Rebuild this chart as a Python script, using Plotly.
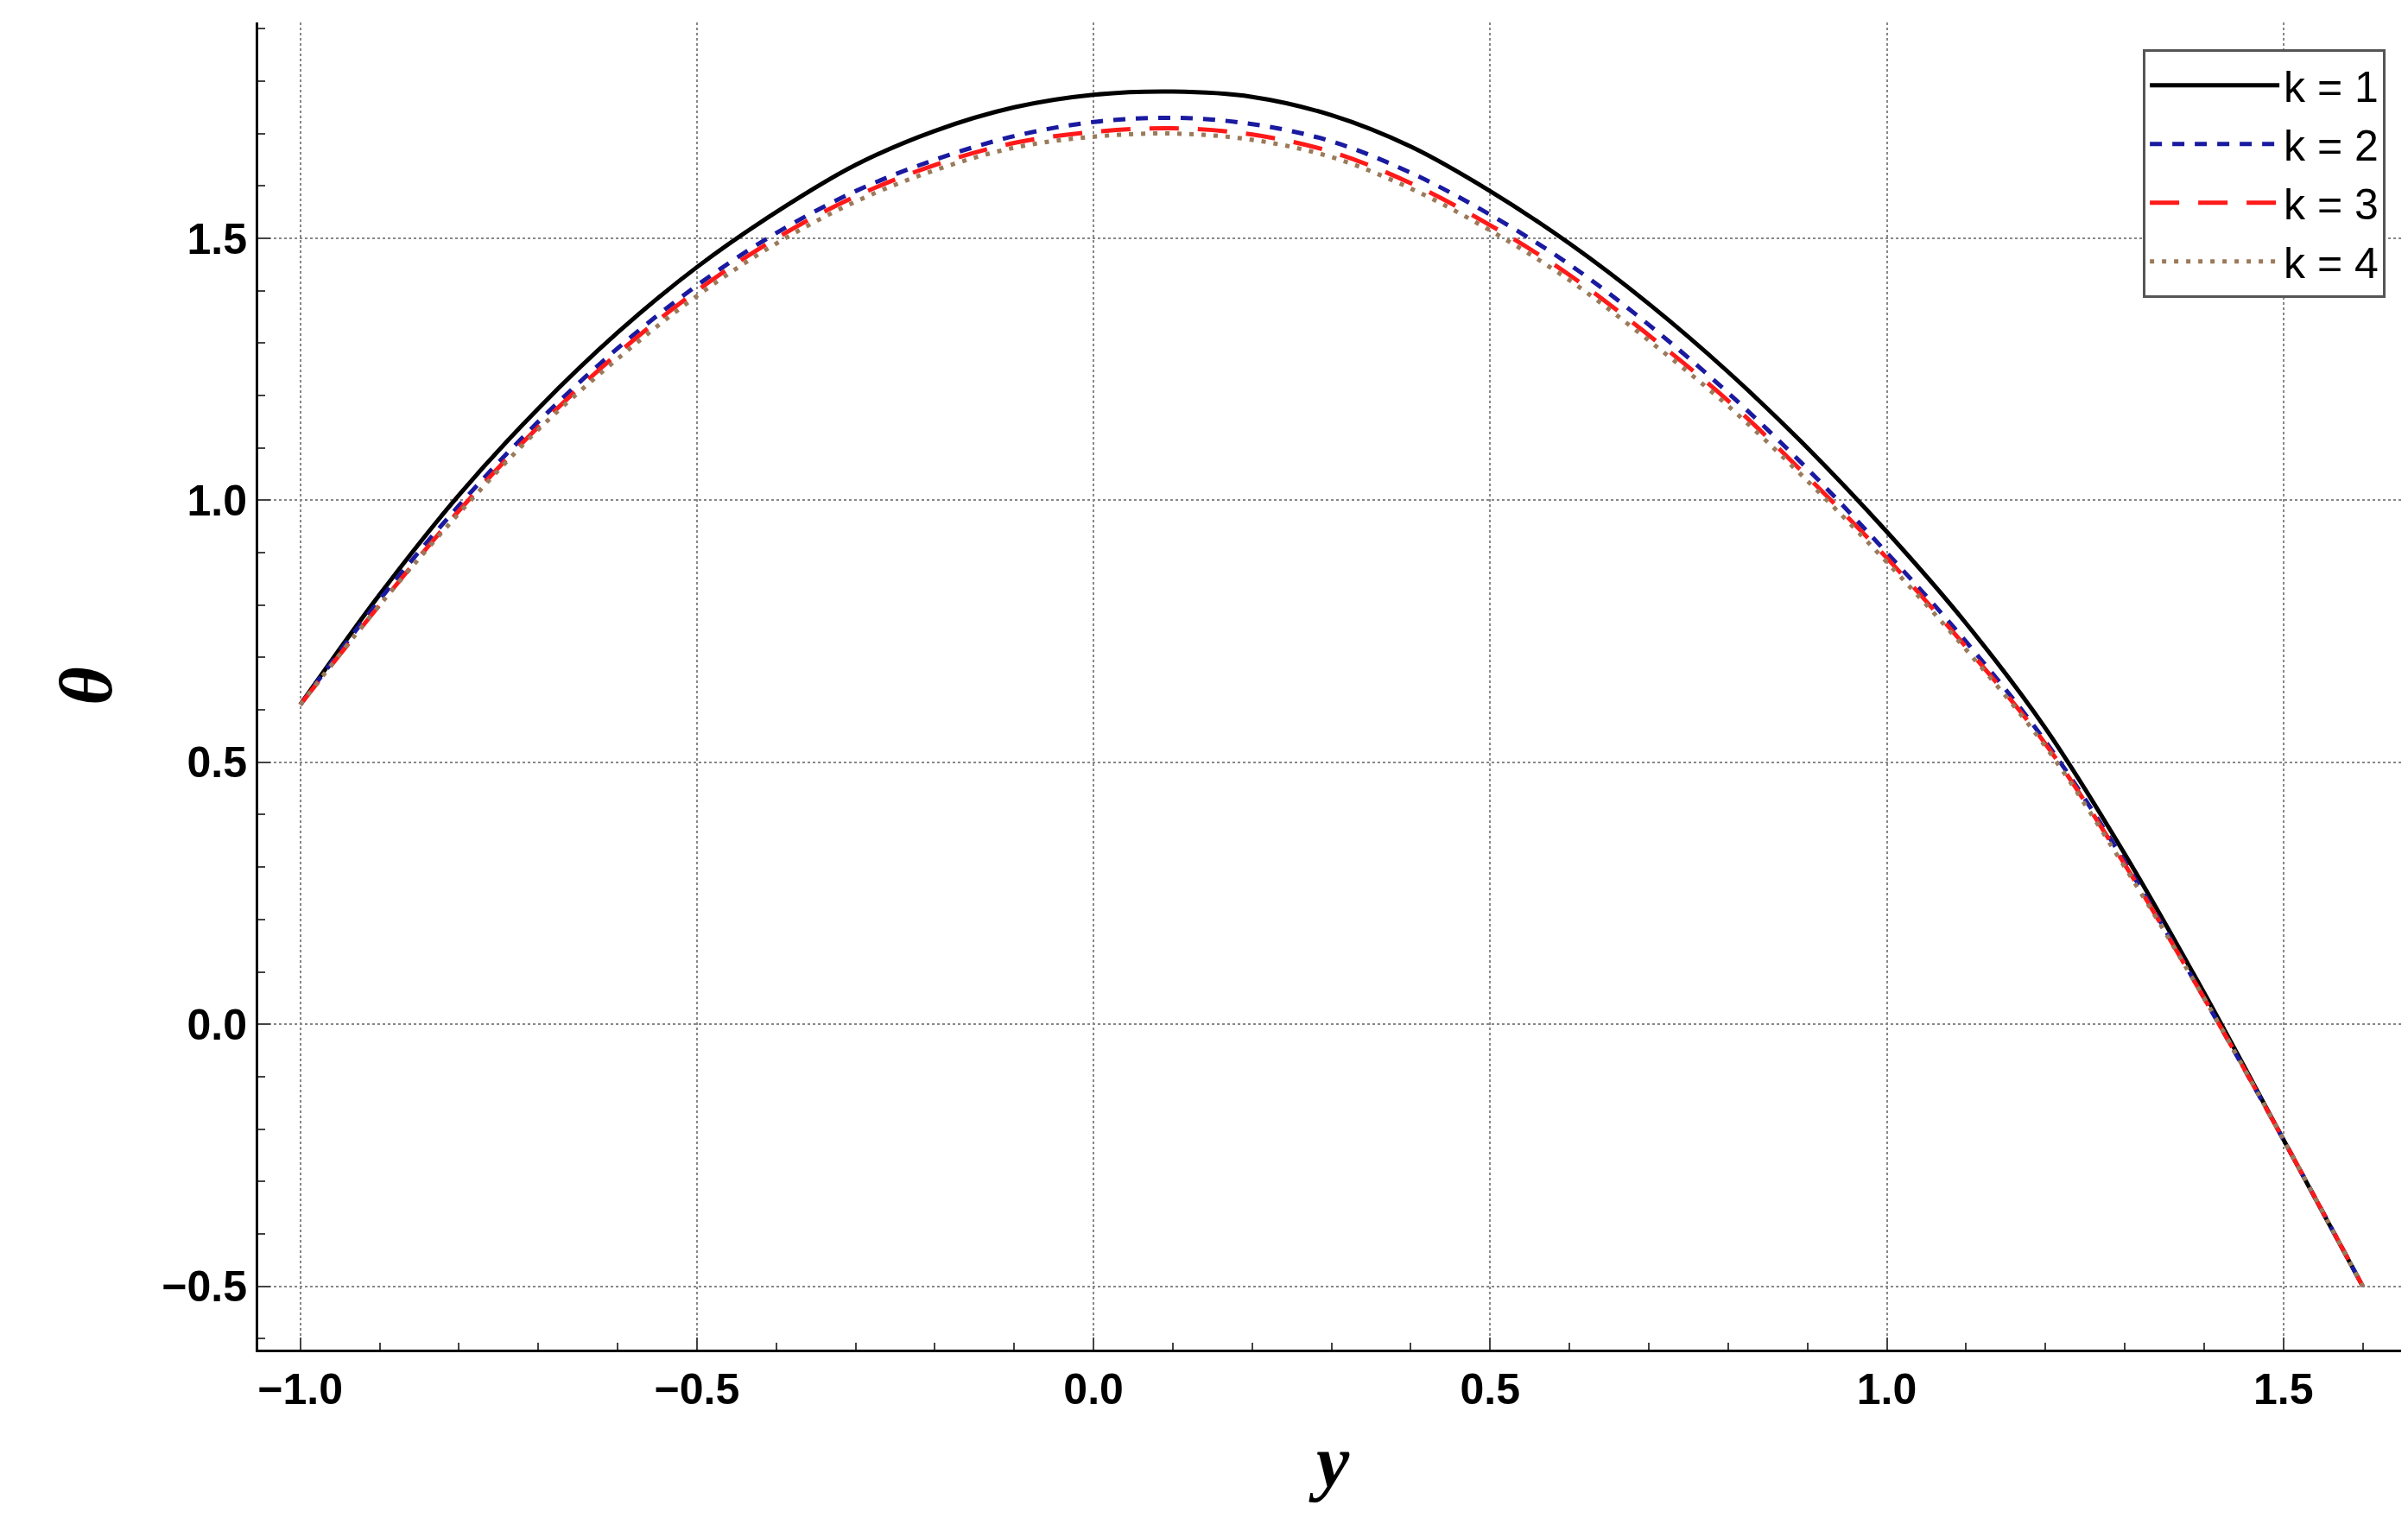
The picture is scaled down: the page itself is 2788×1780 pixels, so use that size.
import plotly.graph_objects as go

y_vals = [round(-1.0 + 0.1 * i, 1) for i in range(27)]
theta_k1 = [0.61, 0.82, 1.01, 1.175, 1.32, 1.445, 1.55, 1.64, 1.705, 1.75, 1.774, 1.78, 1.77, 1.735, 1.675, 1.59,
            1.49, 1.375, 1.245, 1.10, 0.94, 0.765, 0.565, 0.325, 0.06, -0.22, -0.50]
theta_k2 = [0.61, 0.81, 0.99, 1.15, 1.29, 1.41, 1.51, 1.59, 1.65, 1.695, 1.722, 1.73, 1.718, 1.685, 1.625, 1.545,
            1.45, 1.335, 1.205, 1.06, 0.90, 0.73, 0.54, 0.31, 0.05, -0.22, -0.50]
theta_k3 = [0.61, 0.80, 0.98, 1.14, 1.28, 1.40, 1.50, 1.58, 1.64, 1.682, 1.703, 1.71, 1.698, 1.665, 1.605, 1.525,
            1.43, 1.315, 1.19, 1.045, 0.89, 0.72, 0.535, 0.305, 0.05, -0.22, -0.50]
theta_k4 = [0.61, 0.80, 0.975, 1.135, 1.27, 1.39, 1.49, 1.57, 1.63, 1.673, 1.694, 1.70, 1.688, 1.655, 1.595, 1.515,
            1.42, 1.305, 1.18, 1.037, 0.882, 0.715, 0.53, 0.30, 0.05, -0.22, -0.50]
names = ["k = 1", "k = 2", "k = 3", "k = 4"]
colors = ["#000000", "#1a1aa0", "#ff1a1a", "#9b7a5a"]
dashes = ["solid", "14px,12px", "34px,22px", "5px,9px"]

fig = go.Figure()
for th, n, c, d in zip([theta_k1, theta_k2, theta_k3, theta_k4], names, colors, dashes):
    fig.add_trace(go.Scatter(x=y_vals, y=th, mode="lines", name=n, line_shape="spline",
                             line=dict(color=c, width=5, dash=d)))

tickfont = dict(family="Liberation Sans, Arial", size=50, color="black")
fig.update_layout(
    width=2788, height=1780, paper_bgcolor="white", plot_bgcolor="white",
    margin=dict(l=291, r=9, t=18, b=225),
    showlegend=True,
    legend=dict(x=0.99, y=0.98, xanchor="right", yanchor="top", bordercolor="#555", borderwidth=3,
                bgcolor="white", font=dict(family="Liberation Sans, Arial", size=50, color="black"),
                itemwidth=150, tracegroupgap=40),
    xaxis=dict(range=[-1.053, 1.656], tickvals=[-1.0, -0.5, 0.0, 0.5, 1.0, 1.5],
               ticktext=["\u22121.0", "\u22120.5", "0.0", "0.5", "1.0", "1.5"],
               tickfont=dict(**tickfont, weight="bold"), ticks="inside", ticklen=14, tickwidth=2,
               minor=dict(dtick=0.1, ticks="inside", ticklen=8, showgrid=False),
               showline=True, linecolor="black", linewidth=3, zeroline=False,
               showgrid=True, gridcolor="#888", griddash="dot", gridwidth=2,
               title=dict(text="<b><i>y</i></b>", font=dict(family="Liberation Serif, Times New Roman", size=86, color="black"), standoff=25)),
    yaxis=dict(range=[-0.621, 1.912], tickvals=[-0.5, 0.0, 0.5, 1.0, 1.5],
               ticktext=["\u22120.5", "0.0", "0.5", "1.0", "1.5"],
               tickfont=dict(**tickfont, weight="bold"), ticks="inside", ticklen=14, tickwidth=2,
               minor=dict(dtick=0.1, ticks="inside", ticklen=8, showgrid=False),
               showline=True, linecolor="black", linewidth=3, zeroline=False,
               showgrid=True, gridcolor="#888", griddash="dot", gridwidth=2,
               title=dict(text="<b><i>θ</i></b>", font=dict(family="Liberation Serif, Times New Roman", size=86, color="black"), standoff=30)),
)
fig.write_html("out.html")
